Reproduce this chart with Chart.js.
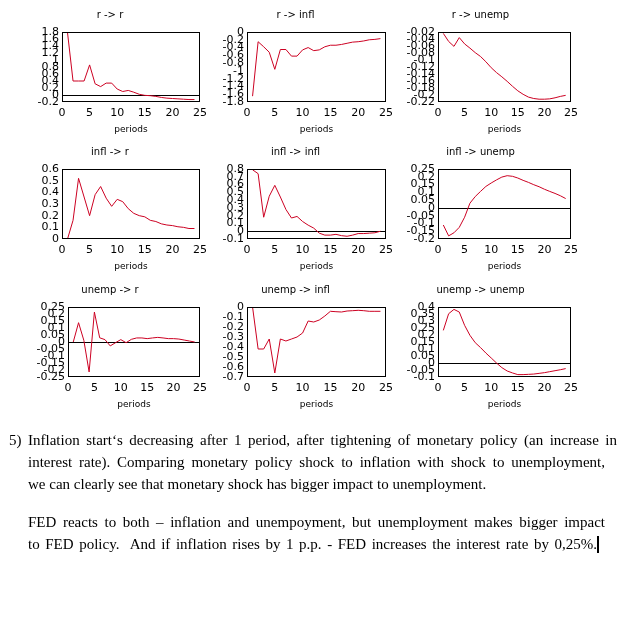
<!DOCTYPE html>
<html>
<head>
<meta charset="utf-8">
<script src="https://cdn.jsdelivr.net/npm/chart.js@4.4.0/dist/chart.umd.min.js"></script>
<style>
  body { margin: 0; background: #fff; width: 624px; height: 640px; position: relative; overflow: hidden; }
  canvas.panel { position: absolute; }
  .txt { position: absolute; font-family: "Liberation Serif", serif; font-size: 15px; line-height: 22px; height: 22px; color: #000; white-space: nowrap; }
  .j { white-space: normal; text-align: justify; text-align-last: justify; overflow: hidden; }
  .cur { display: inline-block; width: 2px; height: 17px; background: #000; vertical-align: -4px; }
</style>
</head>
<body>
<div id="charts"></div>

<div class="txt" style="top:429px;left:9px">5)</div>
<div class="txt j" style="top:429px;left:28px;width:589px">Inflation start‘s decreasing after 1 period, after tightening of monetary policy (an increase in</div>
<div class="txt j" style="top:451px;left:28px;width:577px">interest rate). Comparing monetary policy shock to inflation with shock to unemployment,</div>
<div class="txt" style="top:473px;left:28px">we can clearly see that monetary shock has bigger impact to unemployment.</div>
<div class="txt j" style="top:511px;left:28px;width:577px">FED reacts to both – inflation and unempoyment, but unemployment makes bigger impact</div>
<div class="txt j" style="top:533px;left:28px;width:571px">to FED policy.&nbsp; And if inflation rises by 1 p.p. - FED increases the interest rate by 0,25%.<span class="cur"></span></div>

<script>
// DATA
const periods = [1, 2, 3, 4, 5, 6, 7, 8, 9, 10, 11, 12, 13, 14, 15, 16, 17, 18, 19, 20, 21, 22, 23, 24];

const rToR = [1.78, 0.40, 0.40, 0.40, 0.86, 0.32, 0.24, 0.34, 0.34, 0.17, 0.10, 0.13, 0.08, 0.02, -0.01, -0.02, -0.04, -0.07, -0.09, -0.10, -0.11, -0.12, -0.13, -0.13];
const rToInfl = [-1.65, -0.25, -0.38, -0.52, -0.96, -0.45, -0.45, -0.62, -0.62, -0.46, -0.40, -0.48, -0.46, -0.38, -0.34, -0.34, -0.32, -0.29, -0.26, -0.25, -0.23, -0.20, -0.19, -0.17];
const rToUnemp = [-0.024, -0.047, -0.061, -0.036, -0.054, -0.066, -0.079, -0.090, -0.105, -0.122, -0.136, -0.148, -0.161, -0.175, -0.188, -0.198, -0.206, -0.210, -0.212, -0.212, -0.211, -0.208, -0.204, -0.201];

const inflToR = [0.0, 0.16, 0.52, 0.36, 0.20, 0.38, 0.45, 0.35, 0.28, 0.34, 0.32, 0.26, 0.22, 0.20, 0.19, 0.16, 0.15, 0.13, 0.12, 0.115, 0.105, 0.10, 0.09, 0.09];
const inflToInfl = [0.79, 0.74, 0.18, 0.45, 0.59, 0.44, 0.28, 0.17, 0.19, 0.125, 0.078, 0.04, -0.025, -0.05, -0.05, -0.04, -0.057, -0.065, -0.05, -0.03, -0.03, -0.025, -0.02, 0.0];
const inflToUnemp = [-0.11, -0.18, -0.16, -0.125, -0.06, 0.03, 0.073, 0.106, 0.138, 0.16, 0.18, 0.198, 0.207, 0.203, 0.192, 0.177, 0.164, 0.149, 0.136, 0.12, 0.106, 0.093, 0.078, 0.06];

const unempToR = [0.0, 0.138, 0.012, -0.214, 0.214, 0.03, 0.017, -0.028, -0.005, 0.017, -0.005, 0.019, 0.029, 0.029, 0.024, 0.029, 0.033, 0.029, 0.024, 0.024, 0.021, 0.014, 0.007, 0.0];
const unempToInfl = [0.0, -0.42, -0.42, -0.32, -0.66, -0.32, -0.34, -0.32, -0.30, -0.26, -0.14, -0.15, -0.13, -0.09, -0.043, -0.047, -0.05, -0.04, -0.037, -0.033, -0.037, -0.043, -0.043, -0.043];
const unempToUnemp = [0.233, 0.352, 0.383, 0.364, 0.269, 0.198, 0.145, 0.11, 0.071, 0.036, 0.0, -0.033, -0.057, -0.071, -0.083, -0.083, -0.081, -0.079, -0.074, -0.069, -0.062, -0.055, -0.048, -0.04];

const titles = ["r -> r", "r -> infl", "r -> unemp", "infl -> r", "infl -> infl", "infl -> unemp", "unemp -> r", "unemp -> infl", "unemp -> unemp"];
const series = [rToR, rToInfl, rToUnemp, inflToR, inflToInfl, inflToUnemp, unempToR, unempToInfl, unempToUnemp];
// y axis: [min, max, step]
const yRanges = [[-0.2, 1.8, 0.2], [-1.8, 0, 0.2], [-0.22, -0.02, 0.02],
                 [0, 0.6, 0.1], [-0.1, 0.8, 0.1], [-0.2, 0.25, 0.05],
                 [-0.25, 0.25, 0.05], [-0.7, 0, 0.1], [-0.1, 0.4, 0.05]];
const zeroLine = [true, false, false, false, true, true, true, false, true];

// LAYOUT
const colLeft = [20, 205, 390];
const rowTop = [0, 137, 275];
const plotRight = [200, 386, 571];
const plotLeft = [62, 247, 438, 62, 247, 438, 68, 247, 438];
const CW = 195, CH = 140;

Chart.defaults.font.family = "'DejaVu Sans', sans-serif";
Chart.defaults.color = "#000";

// box round the plot + zero line
const boxPlugin = {
  id: "box",
  beforeDatasetsDraw(chart, args, opts) {
    if (!opts.zero) return;
    const { ctx, chartArea: a, scales: { y } } = chart;
    const yz = Math.round(y.getPixelForValue(0)) + 0.5;
    ctx.save();
    ctx.strokeStyle = "#000";
    ctx.lineWidth = 1;
    ctx.beginPath();
    ctx.moveTo(a.left, yz);
    ctx.lineTo(a.right, yz);
    ctx.stroke();
    ctx.restore();
  },
  afterDraw(chart) {
    const { ctx, chartArea: a } = chart;
    ctx.save();
    ctx.strokeStyle = "#000";
    ctx.lineWidth = 1;
    ctx.strokeRect(Math.round(a.left) + 0.5, Math.round(a.top) + 0.5, Math.round(a.width) - 1, Math.round(a.height) - 1);
    ctx.restore();
  }
};

const holder = document.getElementById("charts");

titles.forEach((title, i) => {
  const col = i % 3, row = Math.floor(i / 3);
  const cv = document.createElement("canvas");
  cv.className = "panel";
  cv.width = CW;
  cv.height = CH;
  cv.style.left = colLeft[col] + "px";
  cv.style.top = rowTop[row] + "px";
  holder.appendChild(cv);

  const [ymin, ymax, ystep] = yRanges[i];
  const yWidth = plotLeft[i] - colLeft[col];

  new Chart(cv, {
    type: "line",
    data: {
      datasets: [{
        data: periods.map((p, k) => ({ x: p, y: series[i][k] })),
        borderColor: "#cc0022",
        borderWidth: 1,
        pointRadius: 0,
        tension: 0,
        fill: false
      }]
    },
    options: {
      responsive: false,
      animation: false,
      layout: { padding: { left: 0, right: colLeft[col] + CW - plotRight[col], top: 0, bottom: 0 } },
      plugins: {
        legend: { display: false },
        tooltip: { enabled: false },
        title: { display: true, text: title, font: { size: 10, weight: "normal" }, padding: { top: 9, bottom: 11 } },
        box: { zero: zeroLine[i] }
      },
      scales: {
        x: {
          type: "linear",
          min: 0, max: 25,
          grid: { display: false, drawTicks: false },
          border: { display: false },
          ticks: { stepSize: 5, font: { size: 11 }, padding: 5, maxRotation: 0 },
          title: { display: true, text: "periods", font: { size: 9 }, padding: { top: 0, bottom: 5 } },
          afterFit(s) { s.height = 38; }
        },
        y: {
          min: ymin, max: ymax,
          grid: { display: false, drawTicks: false },
          border: { display: false },
          ticks: {
            stepSize: ystep,
            autoSkip: false,
            font: { size: 11 },
            padding: 3,
            callback: v => String(parseFloat(Number(v).toFixed(3)))
          },
          afterFit(s) { s.width = yWidth; }
        }
      }
    },
    plugins: [boxPlugin]
  });
});
</script>
</body>
</html>
